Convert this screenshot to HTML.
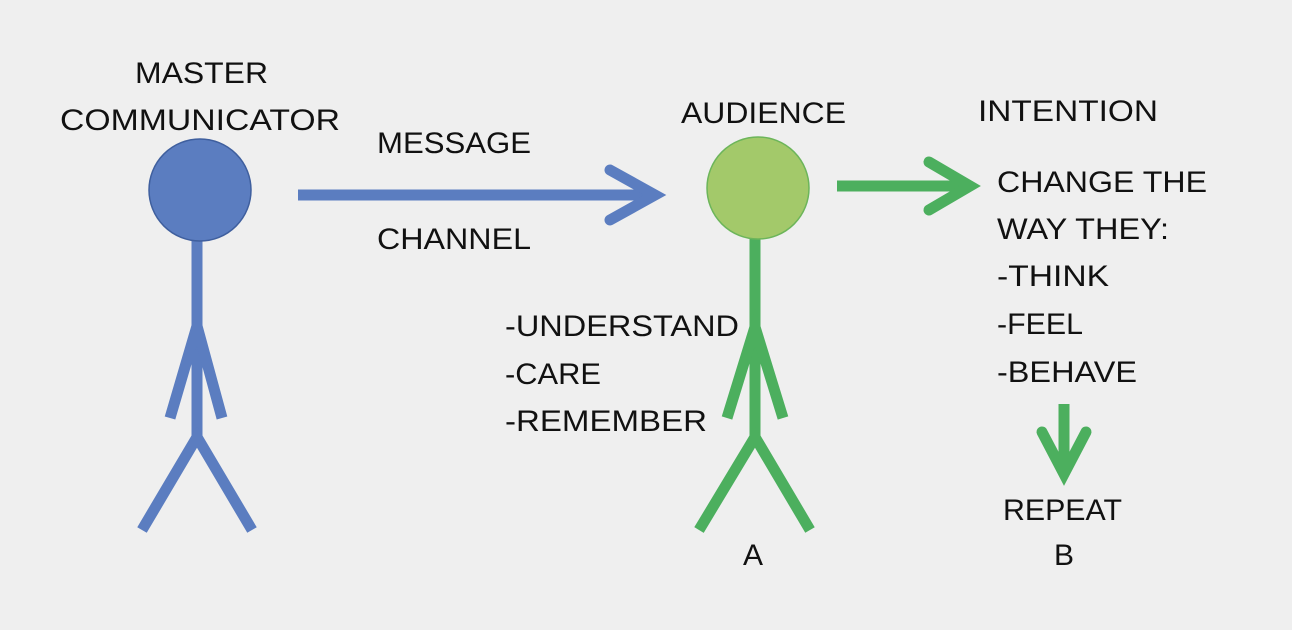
<!DOCTYPE html>
<html><head><meta charset="utf-8"><style>
html,body{margin:0;padding:0;background:#efefef;}
svg{display:block}
text{font-family:"Liberation Sans",sans-serif;font-size:30px;fill:#111;}
</style></head><body>
<svg width="1292" height="630" viewBox="0 0 1292 630">
<rect width="1292" height="630" fill="#efefef"/>
<g stroke="#5b7dc0" stroke-width="11" fill="none" stroke-linecap="butt" stroke-linejoin="miter">
<line x1="197" y1="238" x2="197" y2="437"/>
<polyline points="170,418 197,326 222,418"/>
<polyline points="142,530 197,437 252,530"/>
<line x1="298" y1="195" x2="652" y2="195"/>
<polyline points="610,170 655,195 610,220" stroke-linecap="round"/>
</g>
<circle cx="200" cy="190" r="51" fill="#5b7dc0" stroke="#3f5f9e" stroke-width="1.5"/>
<g stroke="#4caf5e" stroke-width="11" fill="none">
<line x1="755" y1="238" x2="755" y2="437"/>
<polyline points="727,418 755,327 783,418"/>
<polyline points="699,530 755,437 810,530"/>
<line x1="837" y1="186" x2="970" y2="186"/>
<polyline points="929,162 970,186 929,210" stroke-linecap="round"/>
<line x1="1064" y1="404" x2="1064" y2="472"/>
<polyline points="1042,432 1064,474 1086,432" stroke-linecap="round"/>
</g>
<circle cx="758" cy="188" r="51" fill="#a3c96a" stroke="#6cb55a" stroke-width="1.5"/>
<text x="135" y="83" textLength="133" lengthAdjust="spacingAndGlyphs">MASTER</text>
<text x="60" y="130" textLength="280" lengthAdjust="spacingAndGlyphs">COMMUNICATOR</text>
<text x="377" y="153" textLength="154" lengthAdjust="spacingAndGlyphs">MESSAGE</text>
<text x="377" y="249" textLength="154" lengthAdjust="spacingAndGlyphs">CHANNEL</text>
<text x="681" y="123" textLength="165" lengthAdjust="spacingAndGlyphs">AUDIENCE</text>
<text x="978" y="121" textLength="180" lengthAdjust="spacingAndGlyphs">INTENTION</text>
<text x="997" y="192" textLength="210" lengthAdjust="spacingAndGlyphs">CHANGE THE</text>
<text x="997" y="239" textLength="172" lengthAdjust="spacingAndGlyphs">WAY THEY:</text>
<text x="997" y="286" textLength="112" lengthAdjust="spacingAndGlyphs">-THINK</text>
<text x="997" y="334" textLength="86" lengthAdjust="spacingAndGlyphs">-FEEL</text>
<text x="997" y="382" textLength="140" lengthAdjust="spacingAndGlyphs">-BEHAVE</text>
<text x="505" y="336" textLength="234" lengthAdjust="spacingAndGlyphs">-UNDERSTAND</text>
<text x="505" y="384" textLength="96" lengthAdjust="spacingAndGlyphs">-CARE</text>
<text x="505" y="431" textLength="202" lengthAdjust="spacingAndGlyphs">-REMEMBER</text>
<text x="1003" y="520" textLength="119" lengthAdjust="spacingAndGlyphs">REPEAT</text>
<text x="1054" y="565">B</text>
<text x="743" y="565">A</text>
</svg>
</body></html>
